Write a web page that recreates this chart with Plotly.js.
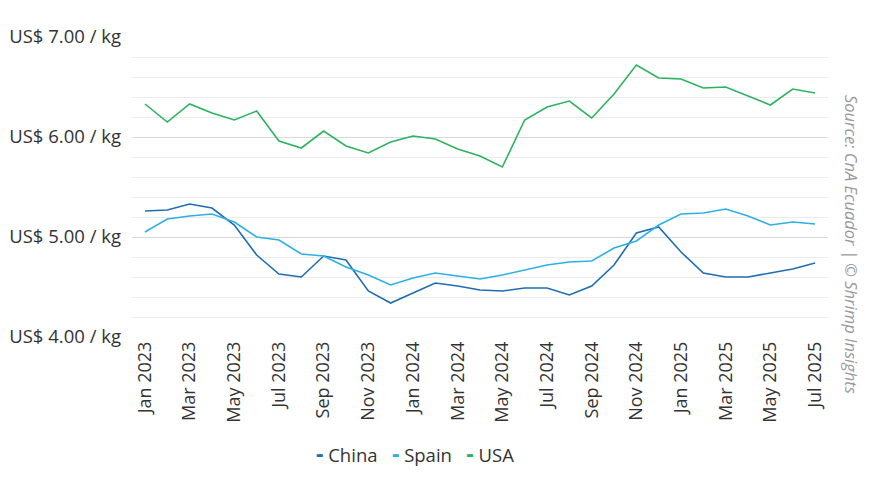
<!DOCTYPE html>
<html>
<head>
<meta charset="utf-8">
<script src="https://cdn.plot.ly/plotly-3.0.1.min.js"></script>
<style>html,body{margin:0;padding:0;background:#fff;}#chart{width:870px;height:489px;}</style>
</head>
<body>
<div id="chart"></div>
<script>
const months = ["Jan 2023","Feb 2023","Mar 2023","Apr 2023","May 2023","Jun 2023","Jul 2023","Aug 2023","Sep 2023","Oct 2023","Nov 2023","Dec 2023",
"Jan 2024","Feb 2024","Mar 2024","Apr 2024","May 2024","Jun 2024","Jul 2024","Aug 2024","Sep 2024","Oct 2024","Nov 2024","Dec 2024",
"Jan 2025","Feb 2025","Mar 2025","Apr 2025","May 2025","Jun 2025","Jul 2025"];
const china = [5.26,5.27,5.33,5.29,5.12,4.82,4.63,4.60,4.81,4.77,4.46,4.34,4.44,4.54,4.51,4.47,4.46,4.49,4.49,4.42,4.51,4.72,5.04,5.10,4.85,4.64,4.60,4.60,4.64,4.68,4.74];
const spain = [5.05,5.18,5.21,5.23,5.15,5.00,4.97,4.83,4.81,4.70,4.62,4.52,4.59,4.64,4.61,4.58,4.62,4.67,4.72,4.75,4.76,4.89,4.96,5.12,5.23,5.24,5.28,5.21,5.12,5.15,5.13];
const usa = [6.33,6.15,6.33,6.24,6.17,6.26,5.96,5.89,6.06,5.91,5.84,5.95,6.01,5.98,5.88,5.81,5.70,6.17,6.30,6.36,6.19,6.43,6.72,6.59,6.58,6.49,6.50,6.41,6.32,6.48,6.44];
const seriesNames = ["China","Spain","USA"];
const seriesColors = ["#1f6db3","#2cb0e6","#2bb35e"];
const tickMonths = months.filter((m,i)=>i%2===0);
const yTickVals = [4,5,6,7];
const yTickText = ["US$ 4.00 / kg","US$ 5.00 / kg","US$ 6.00 / kg","US$ 7.00 / kg"];
const sourceText = "Source: CnA Ecuador | © Shrimp Insights";

const font = "Open Sans, Noto Sans, sans-serif";
const values = [china, spain, usa];
const data = seriesNames.map((n,i)=>({type:"scatter", mode:"lines", name:n, x:months, y:values[i],
  line:{color:seriesColors[i], width:1.6}, showlegend:false}));

const nb = "\u00a0";
const legendText = seriesNames.map((n,i)=>`<span style="color:${seriesColors[i]};font-size:23px"><b>-</b></span>${nb}${n}`).join(nb+nb+nb);

const layout = {
  width:870, height:489,
  margin:{l:132, r:42, t:37, b:152},
  paper_bgcolor:"#fff", plot_bgcolor:"#fff",
  font:{family:font, color:"#333", size:15},
  showlegend:false,
  xaxis:{type:"category", range:[-0.58, 30.58], tickmode:"array", tickvals:tickMonths, ticktext:tickMonths,
    tickangle:-90, showgrid:false, zeroline:false, showline:false, ticks:"", tickfont:{size:18, color:"#333"}},
  yaxis:{range:[4,7], tickmode:"array", tickvals:yTickVals, ticktext:yTickText,
    showgrid:true, gridcolor:"#d9d9d9", gridwidth:1, zeroline:false, showline:false, ticks:"",
    ticklabelstandoff:10, tickfont:{size:18.5, color:"#333"},
    minor:{dtick:0.2, showgrid:true, gridcolor:"#ebebeb", gridwidth:1}},
  annotations:[
    {xref:"paper", yref:"paper", x:1.034, y:0.308, xanchor:"center", yanchor:"middle",
     text:"<i>"+sourceText+"</i>", textangle:90, showarrow:false,
     font:{size:16.5, color:"#9a9a9a"}},
    {xref:"paper", yref:"paper", x:0.407, y:-0.387, xanchor:"center", yanchor:"middle",
     text:legendText, showarrow:false, font:{size:18.5, color:"#333"}}
  ]
};
Plotly.newPlot("chart", data, layout, {displayModeBar:false, staticPlot:true});
</script>
</body>
</html>
